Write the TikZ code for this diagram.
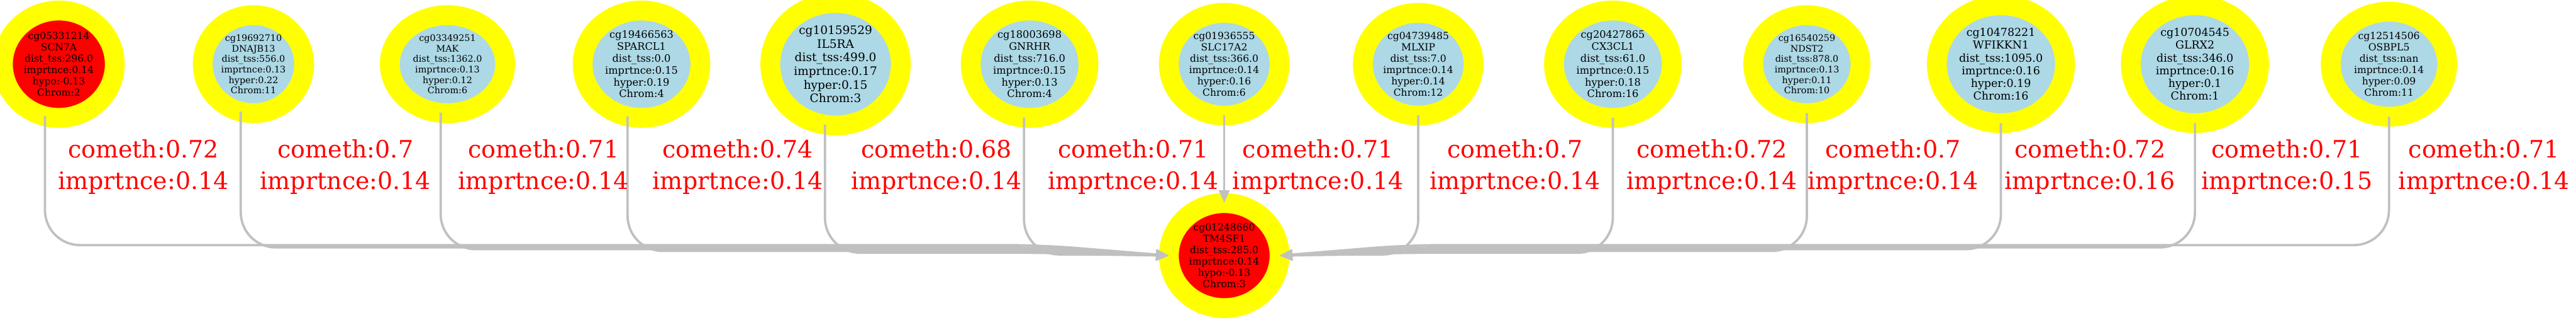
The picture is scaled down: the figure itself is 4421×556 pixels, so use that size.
\documentclass[tikz,border=0pt]{standalone}
\usepackage{fontspec}
\setmainfont{DejaVu Serif}
\usetikzlibrary{arrows.meta,shapes.geometric}
\definecolor{lb}{HTML}{ADD8E6}
\definecolor{yl}{HTML}{FFFF00}
\definecolor{eg}{HTML}{C0C0C0}
\definecolor{rd}{HTML}{FF0000}
\begin{document}
\begin{tikzpicture}[x=0.5pt,y=-0.5pt,
 gene/.style={ellipse, draw=yl, line width=17pt, fill=lb, inner sep=0pt, outer sep=0pt, align=center},
 hot/.style={gene, fill=rd},
 iA/.style={font=\fontsize{7.75pt}{9pt}\selectfont},
 iB/.style={font=\fontsize{8.4pt}{9.75pt}\selectfont},
 iC/.style={font=\fontsize{8.75pt}{10.15pt}\selectfont},
 iD/.style={font=\fontsize{9.4pt}{10.9pt}\selectfont},
 iE/.style={font=\fontsize{10pt}{11.65pt}\selectfont},
 edge/.style={draw=eg, line width=2pt, rounded corners=30pt, -{Triangle[length=11pt,width=9pt]}},
 lab/.style={text=rd, align=center, font=\fontsize{20.5pt}{27pt}\selectfont},
]
\useasboundingbox (0,0) rectangle (4421,556);
\node[hot, iB, minimum width=96pt, minimum height=92pt] (n1) at (101,110) {cg05331214\\SCN7A\\dist\_tss:296.0\\imprtnce:0.14\\hypo:-0.13\\Chrom:2};
\node[gene, iA, minimum width=87pt, minimum height=84pt] (n2) at (435,110) {cg19692710\\DNAJB13\\dist\_tss:556.0\\imprtnce:0.13\\hyper:0.22\\Chrom:11};
\node[gene, iA, minimum width=99pt, minimum height=84pt] (n3) at (768,110) {cg03349251\\MAK\\dist\_tss:1362.0\\imprtnce:0.13\\hyper:0.12\\Chrom:6};
\node[gene, iC, minimum width=101pt, minimum height=92pt] (n4) at (1101,110) {cg19466563\\SPARCL1\\dist\_tss:0.0\\imprtnce:0.15\\hyper:0.19\\Chrom:4};
\node[gene, iE, minimum width=112pt, minimum height=105pt] (n5) at (1434,110) {cg10159529\\IL5RA\\dist\_tss:499.0\\imprtnce:0.17\\hyper:0.15\\Chrom:3};
\node[gene, iC, minimum width=101pt, minimum height=92pt] (n6) at (1767,110) {cg18003698\\GNRHR\\dist\_tss:716.0\\imprtnce:0.15\\hyper:0.13\\Chrom:4};
\node[gene, iB, minimum width=95pt, minimum height=88pt] (n7) at (2101,110) {cg01936555\\SLC17A2\\dist\_tss:366.0\\imprtnce:0.14\\hyper:0.16\\Chrom:6};
\node[gene, iB, minimum width=95pt, minimum height=88pt] (n8) at (2434,110) {cg04739485\\MLXIP\\dist\_tss:7.0\\imprtnce:0.14\\hyper:0.14\\Chrom:12};
\node[gene, iC, minimum width=101pt, minimum height=92pt] (n9) at (2768,110) {cg20427865\\CX3CL1\\dist\_tss:61.0\\imprtnce:0.15\\hyper:0.18\\Chrom:16};
\node[gene, iA, minimum width=92pt, minimum height=84pt] (n10) at (3101,110) {cg16540259\\NDST2\\dist\_tss:878.0\\imprtnce:0.13\\hyper:0.11\\Chrom:10};
\node[gene, iD, minimum width=110pt, minimum height=101pt] (n11) at (3434,110) {cg10478221\\WFIKKN1\\dist\_tss:1095.0\\imprtnce:0.16\\hyper:0.19\\Chrom:16};
\node[gene, iD, minimum width=110pt, minimum height=101pt] (n12) at (3767,110) {cg10704545\\GLRX2\\dist\_tss:346.0\\imprtnce:0.16\\hyper:0.1\\Chrom:1};
\node[gene, iB, minimum width=100pt, minimum height=90pt] (n13) at (4100,110) {cg12514506\\OSBPL5\\dist\_tss:nan\\imprtnce:0.14\\hyper:0.09\\Chrom:11};
\node[hot, iB, minimum width=95pt, minimum height=90pt] (b) at (2101,438) {cg01248660\\TM4SF1\\dist\_tss:285.0\\imprtnce:0.14\\hypo:-0.13\\Chrom:3};
\draw[edge] (n1.255) |- ([xshift=-110pt,yshift=9pt]b.west) -- (b.west);
\draw[edge] (n2.255) |- ([xshift=-110pt,yshift=7pt]b.west) -- (b.west);
\draw[edge] (n3.262) |- ([xshift=-110pt,yshift=5.5pt]b.west) -- (b.west);
\draw[edge] (n4.255) |- ([xshift=-110pt,yshift=4pt]b.west) -- (b.west);
\draw[edge] (n5.260) |- ([xshift=-110pt,yshift=2.5pt]b.west) -- (b.west);
\draw[edge] (n6.264) |- ([xshift=-60pt,yshift=1pt]b.west) -- (b.west);
\draw[edge] (n7.270) -- (b.north);
\draw[edge] (n8.270) |- ([xshift=60pt,yshift=1pt]b.east) -- (b.east);
\draw[edge] (n9.270) |- ([xshift=110pt,yshift=2.5pt]b.east) -- (b.east);
\draw[edge] (n10.270) |- ([xshift=110pt,yshift=4pt]b.east) -- (b.east);
\draw[edge] (n11.270) |- ([xshift=110pt,yshift=5.5pt]b.east) -- (b.east);
\draw[edge] (n12.270) |- ([xshift=110pt,yshift=7pt]b.east) -- (b.east);
\draw[edge] (n13.270) |- ([xshift=110pt,yshift=9pt]b.east) -- (b.east);
\node[lab] (l1) at (246,286) {cometh:0.72\\imprtnce:0.14};
\node[lab] (l2) at (593,286) {cometh:0.7\\imprtnce:0.14};
\node[lab] (l3) at (933,286) {cometh:0.71\\imprtnce:0.14};
\node[lab] (l4) at (1266,286) {cometh:0.74\\imprtnce:0.14};
\node[lab] (l5) at (1607,286) {cometh:0.68\\imprtnce:0.14};
\node[lab] (l6) at (1945,286) {cometh:0.71\\imprtnce:0.14};
\node[lab] (l7) at (2262,286) {cometh:0.71\\imprtnce:0.14};
\node[lab] (l8) at (2600,286) {cometh:0.7\\imprtnce:0.14};
\node[lab] (l9) at (2938,286) {cometh:0.72\\imprtnce:0.14};
\node[lab] (l10) at (3249,286) {cometh:0.7\\imprtnce:0.14};
\node[lab] (l11) at (3587,286) {cometh:0.72\\imprtnce:0.16};
\node[lab] (l12) at (3925,286) {cometh:0.71\\imprtnce:0.15};
\node[lab] (l13) at (4263,286) {cometh:0.71\\imprtnce:0.14};
\end{tikzpicture}
\end{document}
